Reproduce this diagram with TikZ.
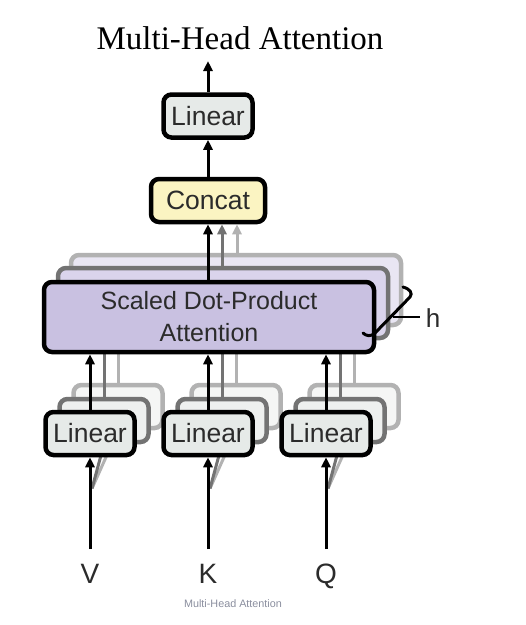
\documentclass[tikz,border=0pt]{standalone}
\usepackage{fontspec}
\setmainfont{Liberation Serif}
\newfontfamily\boxfont{Liberation Sans}
\usetikzlibrary{calc,arrows.meta}
\definecolor{linfill}{HTML}{E6EAE8}
\definecolor{linfillb}{HTML}{EEF0EF}
\definecolor{linfillc}{HTML}{F5F6F5}
\definecolor{catfill}{HTML}{FBF4C2}
\definecolor{attfill}{HTML}{C9C1E1}
\definecolor{attfillb}{HTML}{DAD4EC}
\definecolor{attfillc}{HTML}{E9E6F3}
\definecolor{txt}{HTML}{2B2B2B}
\definecolor{capgray}{HTML}{8A8E9E}
\tikzset{
  boxbase/.style={rounded corners=8pt, line width=4.5pt, inner sep=0pt, text=txt,
    font=\boxfont\fontsize{26.5}{30}\selectfont, align=center},
  linbox/.style={boxbase, draw=black, fill=linfill, minimum width=89pt, minimum height=43pt},
  linboxb/.style={boxbase, draw=black!55, fill=linfillb, minimum width=89pt, minimum height=43pt},
  linboxc/.style={boxbase, draw=black!30, fill=linfillc, minimum width=89pt, minimum height=43pt},
  catbox/.style={boxbase, draw=black, fill=catfill, minimum width=114pt, minimum height=43pt},
  attbox/.style={boxbase, draw=black, fill=attfill, minimum width=330pt, minimum height=70pt,
    font=\boxfont\fontsize{25}{32}\selectfont},
  attboxb/.style={boxbase, draw=black!55, fill=attfillb, minimum width=330pt, minimum height=70pt},
  attboxc/.style={boxbase, draw=black!30, fill=attfillc, minimum width=330pt, minimum height=70pt},
  arr/.style={line width=3pt, -{Triangle[length=10pt,width=9pt]}},
  arrb/.style={line width=3pt, draw=black!55, -{Triangle[length=10pt,width=9pt]}},
  arrc/.style={line width=3pt, draw=black!30, -{Triangle[length=10pt,width=9pt]}},
  lineb/.style={line width=3pt, draw=black!55},
  linec/.style={line width=3pt, draw=black!30},
  lbl/.style={font=\boxfont\fontsize{28}{32}\selectfont, text=txt, inner sep=0pt, anchor=base},
}
\begin{document}
\begin{tikzpicture}[x=1pt,y=-1pt]
\useasboundingbox (0,0) rectangle (526,625);

% centres
\coordinate (catc) at (208,200.5);
\coordinate (attc) at (209,317);
\coordinate (c1) at (90,433.5);
\coordinate (c2) at (208,433.5);
\coordinate (c3) at (326,433.5);

% title
\node[font=\fontsize{33}{36}\selectfont, inner sep=0pt] (title) at (240,38) {Multi-Head Attention};
\coordinate (outtip) at (208,61);

% back attention layers
\node[attboxc] (att3) at ($(attc)+(27,-27)$) {};
\node[attboxb] (att2) at ($(attc)+(14,-14)$) {};

% concat + top linear
\node[catbox] (cat) at (catc) {Concat};
\node[linbox] (lintop) at (208,116) {Linear};

% gray arrows from back attention layers to concat
\coordinate (g3) at ($(att3.north)+(1,0)$);
\coordinate (g2) at ($(att2.north)+(-1,0)$);
\draw[arrc] (g3) -- (g3 |- cat.south);
\draw[arrb] (g2) -- (g2 |- cat.south);

% inputs
\node[lbl] (V) at (90,583) {V};
\node[lbl] (K) at (208,583) {K};
\node[lbl] (Q) at (326,583) {Q};
\coordinate (v0) at (90,549);
\coordinate (k0) at (208,549);
\coordinate (q0) at (326,549);

% back linear layers and their lines
\foreach \i in {1,2,3}{
  \node[linboxc] (lin\i c) at ($(c\i)+(28,-27)$) {};
  \node[linboxb] (lin\i b) at ($(c\i)+(14,-13)$) {};
  \coordinate (d\i) at ($(c\i)+(2,55)$);
  \draw[linec] (d\i) -- (lin\i c.south);
  \draw[lineb] (d\i) -- (lin\i b.south);
  \draw[linec] (lin\i c.north) -- (lin\i c.north |- attc);
  \draw[lineb] (lin\i b.north) -- (lin\i b.north |- attc);
}

% front attention
\node[attbox] (att) at (attc) {Scaled Dot-Product\\Attention};

% front linears
\node[linbox] (lin1) at (c1) {Linear};
\node[linbox] (lin2) at (c2) {Linear};
\node[linbox] (lin3) at (c3) {Linear};

% black arrows
\draw[arr] (v0) -- (lin1.south);
\draw[arr] (k0) -- (lin2.south);
\draw[arr] (q0) -- (lin3.south);
\draw[arr] (lin1.north) -- (lin1.north |- att.south);
\draw[arr] (lin2.north) -- (lin2.north |- att.south);
\draw[arr] (lin3.north) -- (lin3.north |- att.south);
\draw[arr] (att.north -| cat.south) -- (cat.south);
\draw[arr] (cat.north) -- (lintop.south);
\draw[arr] (lintop.north) -- (outtip);

% h bracket
\node[font=\boxfont\fontsize{26}{30}\selectfont, text=txt, inner sep=0pt] (h) at (433,318) {h};
\coordinate (tick) at (393,317);
\draw[line width=3pt, line cap=round] (403,287) .. controls (410,289) and (413,293) .. (410,297)
  -- (375,333) .. controls (371,337) and (366,336) .. (363,333);
\draw[line width=2pt] (tick) -- ($(h.west)+(-6,-1)$);

% caption
\node[font=\boxfont\fontsize{10.8}{12}\selectfont, text=capgray] (cap) at (233,604) {Multi-Head Attention};
\end{tikzpicture}
\end{document}
